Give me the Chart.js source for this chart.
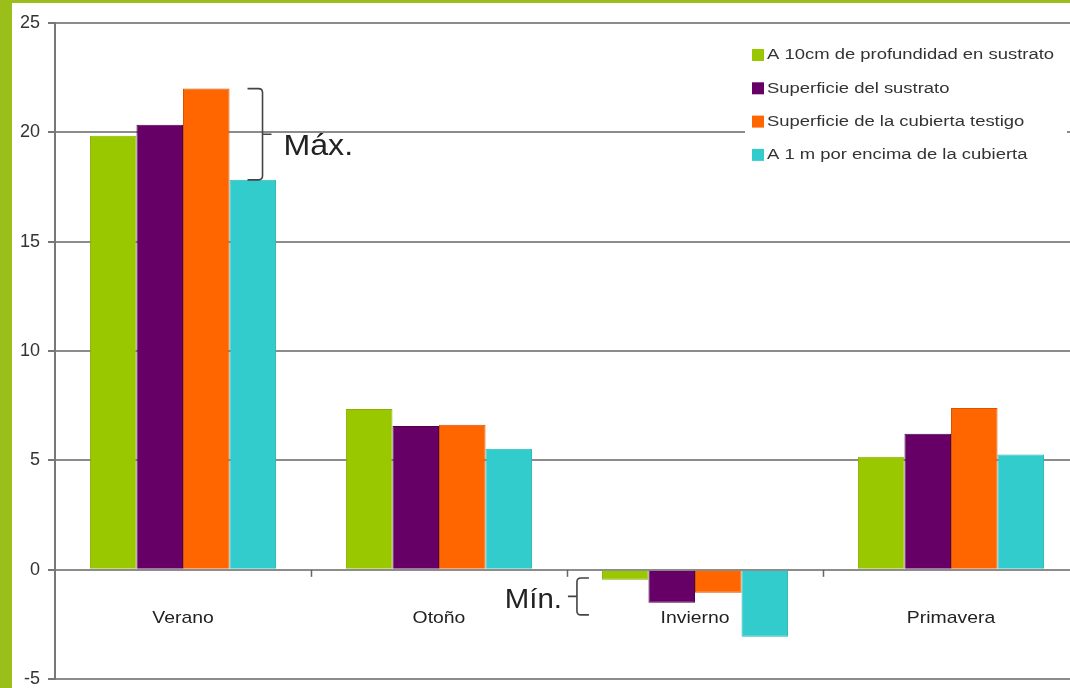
<!DOCTYPE html>
<html>
<head>
<meta charset="utf-8">
<script src="https://cdn.jsdelivr.net/npm/chart.js@4.4.1/dist/chart.umd.min.js"></script>
<style>
  html, body { margin: 0; padding: 0; background: #fff; overflow: hidden; }
  #frame { position: relative; width: 1070px; height: 688px; overflow: hidden; }
  #tempChart { position: absolute; left: 0; top: 0; display: block; }
  #edgeLeft { position: absolute; left: 0; top: 0; width: 12px; height: 688px; background: #9bbf1a; }
  #edgeTop { position: absolute; left: 0; top: 0; width: 1070px; height: 3px; background: #9bbf1a; }
</style>
</head>
<body>
<div id="frame">
  <canvas id="tempChart" width="1080" height="688"></canvas>
  <div id="edgeLeft"></div>
  <div id="edgeTop"></div>
</div>
<script>
// Temperaturas medias por estación
const seasons = ["Verano", "Otoño", "Invierno", "Primavera"];
const seriesNames = [
    "A 10cm de profundidad en sustrato",
    "Superficie del sustrato",
    "Superficie de la cubierta testigo",
    "A 1 m por encima de la cubierta"
];
const sustrato10cm = [19.85, 7.35, -0.45, 5.17];
const superficieSustrato = [20.35, 6.58, -1.5, 6.22];
const cubiertaTestigo = [22.0, 6.63, -1.05, 7.4];
const sobreCubierta = [17.83, 5.53, -3.06, 5.27];
const yTicks = [-5, 0, 5, 10, 15, 20, 25];

const fills = ["#99c700", "#660066", "#ff6600", "#33cccc"];
const edges = ["#88b000", "#4d004d", "#d95200", "#2bb5b5"];
const FONT = "'Liberation Sans', Arial, sans-serif";

// wanted plot box (the 25 line and the -5 line)
const PLOT_TOP = 23;
const PLOT_BOTTOM = 679;
const CANVAS_H = 688;

// text drawn a bit wider than the font's natural width
function wideText(ctx, text, x, y, sx, align) {
    const w = ctx.measureText(text).width * sx;
    let left = x;
    if (align === "center") left = x - w / 2;
    else if (align === "right") left = x - w;
    ctx.save();
    ctx.textAlign = "left";
    ctx.translate(left, y);
    ctx.scale(sx, 1);
    ctx.fillText(text, 0, 0);
    ctx.restore();
}

// category labels sit under the zero line, plus the small separator ticks
const zeroAxisLabels = {
    id: "zeroAxisLabels",
    afterDatasetsDraw(chart) {
        const { ctx, scales: { x, y }, chartArea } = chart;
        const y0 = y.getPixelForValue(0);
        ctx.save();
        ctx.strokeStyle = "#666";
        ctx.lineWidth = 1.5;
        const step = (chartArea.right - chartArea.left) / seasons.length;
        for (let k = 1; k < seasons.length; k++) {
            const bx = Math.round(chartArea.left + step * k) + 0.5;
            ctx.beginPath();
            ctx.moveTo(bx, y0);
            ctx.lineTo(bx, y0 + 7);
            ctx.stroke();
        }
        ctx.fillStyle = "#222";
        ctx.font = "17px " + FONT;
        ctx.textBaseline = "middle";
        seasons.forEach((s, i) => {
            wideText(ctx, s, x.getPixelForValue(i), y0 + 48, 1.14, "center");
        });
        ctx.restore();
    }
};

// legend box inside the plot, top right
const innerLegend = {
    id: "innerLegend",
    afterDraw(chart) {
        const { ctx, chartArea } = chart;
        const left = chartArea.right - 334;
        const top = 38;
        ctx.save();
        ctx.fillStyle = "#fff";
        ctx.fillRect(left, top, 322, 135);
        ctx.font = "15.5px " + FONT;
        ctx.textBaseline = "middle";
        chart.data.datasets.forEach((ds, i) => {
            const cy = top + 17 + i * 33.3;
            ctx.fillStyle = ds.backgroundColor;
            ctx.fillRect(left + 7, cy - 6, 12, 12);
            ctx.fillStyle = "#333";
            wideText(ctx, ds.label, left + 22, cy, 1.19, "left");
        });
        ctx.restore();
    }
};

// braces marking the max / min spread
const spreadBraces = {
    id: "spreadBraces",
    afterDatasetsDraw(chart) {
        const { ctx, scales: { y } } = chart;
        const barOf = (d, i) => chart.getDatasetMeta(d).data[i];
        ctx.save();
        ctx.strokeStyle = "#444";
        ctx.lineWidth = 1.6;
        ctx.fillStyle = "#222";

        // Máx: from the highest to the lowest summer bar
        const hi = barOf(2, 0), lo = barOf(3, 0);
        const bx = hi.x + hi.width / 2 + 33;
        const yTop = hi.y, yBot = lo.y;
        const yMid = (yTop + yBot) / 2;
        ctx.beginPath();
        ctx.moveTo(bx - 15, yTop);
        ctx.lineTo(bx - 4, yTop);
        ctx.quadraticCurveTo(bx, yTop, bx, yTop + 4);
        ctx.lineTo(bx, yBot - 4);
        ctx.quadraticCurveTo(bx, yBot, bx - 4, yBot);
        ctx.lineTo(bx - 15, yBot);
        ctx.moveTo(bx, yMid);
        ctx.lineTo(bx + 9, yMid);
        ctx.stroke();
        ctx.font = "30px " + FONT;
        ctx.textBaseline = "middle";
        wideText(ctx, "Máx.", bx + 21, yMid + 13, 1.07, "left");

        // Mín: winter bars
        const w = barOf(0, 2);
        const mx = w.x - w.width / 2 - 25;
        const mTop = y.getPixelForValue(-0.37);
        const mBot = y.getPixelForValue(-2.06);
        const mMid = (mTop + mBot) / 2;
        ctx.beginPath();
        ctx.moveTo(mx + 12, mTop);
        ctx.lineTo(mx + 4, mTop);
        ctx.quadraticCurveTo(mx, mTop, mx, mTop + 4);
        ctx.lineTo(mx, mBot - 4);
        ctx.quadraticCurveTo(mx, mBot, mx + 4, mBot);
        ctx.lineTo(mx + 12, mBot);
        ctx.moveTo(mx, mMid);
        ctx.lineTo(mx - 9, mMid);
        ctx.stroke();
        ctx.font = "28px " + FONT;
        wideText(ctx, "Mín.", mx - 15, mMid + 4, 1.05, "right");
        ctx.restore();
    }
};

const seriesData = [sustrato10cm, superficieSustrato, cubiertaTestigo, sobreCubierta];

function buildChart(canvas) {
    return new Chart(canvas, {
        type: "bar",
        data: {
            labels: seasons,
            datasets: seriesData.map((values, i) => ({
                label: seriesNames[i],
                data: values,
                backgroundColor: fills[i],
                borderColor: edges[i],
                borderWidth: 1,
                categoryPercentage: 0.727,
                barPercentage: 1
            }))
        },
        options: {
            responsive: false,
            animation: false,
            layout: { padding: { top: PLOT_TOP, bottom: 0, left: 0, right: 1 } },
            plugins: {
                legend: { display: false },
                tooltip: { enabled: false }
            },
            scales: {
                x: { display: false },
                y: {
                    min: -5,
                    max: 25,
                    afterBuildTicks: (scale) => {
                        scale.ticks = yTicks.map(v => ({ value: v }));
                    },
                    afterFit: (scale) => { scale.width = 55; },
                    grid: {
                        color: "#8c8c8c",
                        lineWidth: 2,
                        tickLength: 7,
                        tickColor: "#777"
                    },
                    border: { color: "#777", width: 2 },
                    ticks: {
                        color: "#333",
                        font: { family: FONT, size: 18 },
                        padding: 8
                    }
                }
            }
        },
        plugins: [zeroAxisLabels, spreadBraces, innerLegend]
    });
}

// the -5 label keeps some room under the plot; make the canvas taller than
// the frame (which crops it) so the plot itself ends on PLOT_BOTTOM
const canvas = document.getElementById("tempChart");
let chart = buildChart(canvas);
const short = Math.round(PLOT_BOTTOM - chart.chartArea.bottom);
if (short !== 0) {
    chart.destroy();
    canvas.height = CANVAS_H + short;
    canvas.style.height = (CANVAS_H + short) + "px";
    chart = buildChart(canvas);
}
</script>
</body>
</html>
